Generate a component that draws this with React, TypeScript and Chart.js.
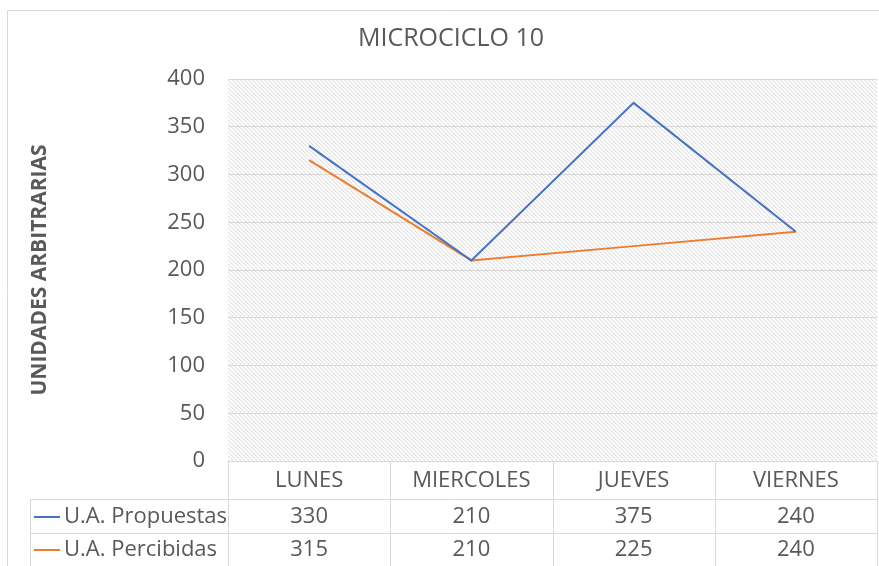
import React, { useEffect, useRef } from "react";
import { Chart, registerables } from "chart.js";

Chart.register(...registerables);

const TITLE = "MICROCICLO 10";
const Y_TITLE = "UNIDADES ARBITRARIAS";
const categories = ["LUNES", "MIERCOLES", "JUEVES", "VIERNES"];
const propuestasLabel = "U.A. Propuestas";
const percibidasLabel = "U.A. Percibidas";
const propuestas = [330, 210, 375, 240];
const percibidas = [315, 210, 225, 240];

const FONT = "'Open Sans', 'Noto Sans', sans-serif";
const TEXT = "#595959";
const GRID = "#D9D9D9";
const BLUE = "#4472C4";
const ORANGE = "#ED7D31";

function makePattern(ctx: CanvasRenderingContext2D) {
  const c = document.createElement("canvas");
  c.width = 4;
  c.height = 4;
  const p = c.getContext("2d")!;
  p.fillStyle = "#ffffff";
  p.fillRect(0, 0, 4, 4);
  for (let i = 0; i < 4; i++) {
    p.fillStyle = "#E2E2E2";
    p.fillRect(i, i, 1, 1);
    p.fillStyle = "#F1F1F1";
    p.fillRect((i + 1) % 4, i, 1, 1);
  }
  return ctx.createPattern(c, "repeat");
}

const decorPlugin = {
  id: "decor",
  beforeDraw(chart: any) {
    const { ctx, chartArea } = chart;
    ctx.save();
    ctx.fillStyle = "#ffffff";
    ctx.fillRect(0, 0, chart.width, chart.height);
    const pat = makePattern(ctx);
    if (pat) {
      ctx.fillStyle = pat;
      ctx.fillRect(chartArea.left, chartArea.top, chartArea.right - chartArea.left, chartArea.bottom - chartArea.top);
    }
    ctx.restore();
  },
  afterDraw(chart: any) {
    const { ctx, chartArea } = chart;
    const xs = chart.scales.x;
    ctx.save();
    // frame
    ctx.strokeStyle = GRID;
    ctx.lineWidth = 1;
    ctx.beginPath();
    ctx.moveTo(7.5, chart.height);
    ctx.lineTo(7.5, 10.5);
    ctx.lineTo(chart.width, 10.5);
    ctx.stroke();

    // title
    ctx.fillStyle = TEXT;
    ctx.font = `25px ${FONT}`;
    ctx.textAlign = "center";
    ctx.textBaseline = "middle";
    ctx.fillText(TITLE, 451, 39);

    // y title
    ctx.save();
    ctx.translate(40, (chartArea.top + chartArea.bottom) / 2);
    ctx.rotate(-Math.PI / 2);
    ctx.font = `bold 21px ${FONT}`;
    ctx.fillText(Y_TITLE, 0, 0);
    ctx.restore();

    // data table
    const top = chartArea.bottom;
    const row1 = 499;
    const row2 = 533;
    const bottom = chart.height;
    const left = chartArea.left;
    const right = chartArea.right;
    const legendLeft = 30;
    const colW = (right - left) / categories.length;
    ctx.strokeStyle = GRID;
    ctx.lineWidth = 1;
    ctx.beginPath();
    ctx.moveTo(left, top + 0.5);
    ctx.lineTo(right, top + 0.5);
    ctx.moveTo(legendLeft, row1 + 0.5);
    ctx.lineTo(right, row1 + 0.5);
    ctx.moveTo(legendLeft, row2 + 0.5);
    ctx.lineTo(right, row2 + 0.5);
    ctx.moveTo(legendLeft + 0.5, row1);
    ctx.lineTo(legendLeft + 0.5, bottom);
    for (let i = 0; i <= categories.length; i++) {
      const x = Math.round(left + i * colW) + 0.5;
      ctx.moveTo(x, top);
      ctx.lineTo(x, bottom);
    }
    ctx.stroke();

    ctx.fillStyle = TEXT;
    ctx.font = `22px ${FONT}`;
    ctx.textAlign = "center";
    ctx.textBaseline = "middle";
    const headY = (top + row1) / 2 + 1;
    const r1Y = (row1 + row2) / 2 + 1;
    const r2Y = 550;
    categories.forEach((c, i) => {
      const x = xs.getPixelForValue(i);
      ctx.fillText(c, x, headY);
      ctx.fillText(String(propuestas[i]), x, r1Y);
      ctx.fillText(String(percibidas[i]), x, r2Y);
    });

    // legend keys
    ctx.textAlign = "left";
    ctx.lineWidth = 2;
    const rows: [string, string, number][] = [
      [propuestasLabel, BLUE, r1Y],
      [percibidasLabel, ORANGE, r2Y],
    ];
    rows.forEach(([label, color, y]) => {
      ctx.strokeStyle = color;
      ctx.beginPath();
      ctx.moveTo(34, Math.round(y));
      ctx.lineTo(60, Math.round(y));
      ctx.stroke();
      ctx.fillStyle = TEXT;
      ctx.fillText(label, 64, y);
    });
    ctx.restore();
  },
};

export default function App() {
  const ref = useRef<HTMLCanvasElement>(null);
  useEffect(() => {
    if (!ref.current) return;
    const chart = new Chart(ref.current, {
      type: "line",
      data: {
        labels: categories,
        datasets: [
          {
            label: propuestasLabel,
            data: propuestas,
            borderColor: BLUE,
            backgroundColor: BLUE,
            borderWidth: 2,
            pointRadius: 0,
            tension: 0,
          },
          {
            label: percibidasLabel,
            data: percibidas,
            borderColor: ORANGE,
            backgroundColor: ORANGE,
            borderWidth: 2,
            pointRadius: 0,
            tension: 0,
          },
        ],
      },
      options: {
        responsive: false,
        animation: false,
        devicePixelRatio: 1,
        layout: { padding: { top: 79, bottom: 105, left: 0, right: 2 } },
        plugins: { legend: { display: false }, title: { display: false }, tooltip: { enabled: false } },
        scales: {
          x: {
            type: "category",
            offset: true,
            display: false,
          },
          y: {
            min: 0,
            max: 400,
            afterFit(scale: any) {
              scale.width = 228;
            },
            ticks: {
              stepSize: 50,
              color: TEXT,
              font: { family: FONT, size: 22 },
              padding: 23,
            },
            grid: { color: GRID, drawTicks: false, lineWidth: 1 },
            border: { display: false },
          },
        },
      },
      plugins: [decorPlugin],
    });
    return () => chart.destroy();
  }, []);
  return (
    <div style={{ position: "fixed", left: 0, top: 0, width: 879, height: 566, background: "#fff" }}>
      <canvas ref={ref} width={879} height={566} style={{ display: "block", width: 879, height: 566 }} />
    </div>
  );
}
